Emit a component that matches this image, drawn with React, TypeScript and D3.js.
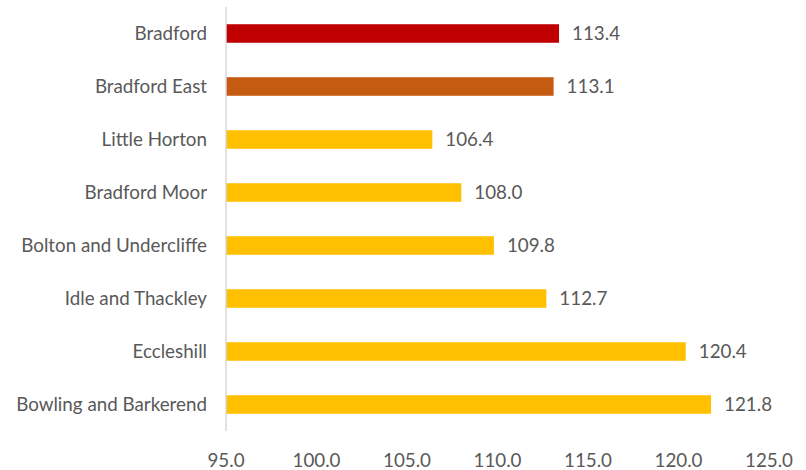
import React from "react";
import * as d3 from "d3";

const categories = [
  "Bradford",
  "Bradford East",
  "Little Horton",
  "Bradford Moor",
  "Bolton and Undercliffe",
  "Idle and Thackley",
  "Eccleshill",
  "Bowling and Barkerend",
];
const values = [113.4, 113.1, 106.4, 108.0, 109.8, 112.7, 120.4, 121.8];
const barColors = ["#C00000", "#C55A11", "#FFC000", "#FFC000", "#FFC000", "#FFC000", "#FFC000", "#FFC000"];
const ticks = [95, 100, 105, 110, 115, 120, 125];

const W = 806;
const H = 470;
const FONT = "Lato, Carlito, Calibri, sans-serif";
const FS = 18.8;
const TEXT = "#595959";

export default function App() {
  const x = d3.scaleLinear().domain([95, 125]).range([226, 769]);
  const y = d3.scaleBand<string>().domain(categories).range([7, 431]).paddingInner(0.65).paddingOuter(0.325);

  return (
    <svg width={W} height={H} style={{ position: "absolute", left: 0, top: 0, background: "#fff" }}>
      <rect x={0} y={0} width={W} height={H} fill="#fff" />
      {categories.map((c, i) => (
        <g key={c}>
          <rect
            x={x(95)}
            y={y(c)!}
            width={x(values[i]) - x(95)}
            height={y.bandwidth()}
            fill={barColors[i]}
          />
          <text
            x={x(values[i]) + 13}
            y={y(c)! + y.bandwidth() / 2}
            dy="0.35em"
            fontFamily={FONT}
            fontSize={FS}
            fill={TEXT}
          >
            {values[i].toFixed(1)}
          </text>
          <text
            x={207}
            y={y(c)! + y.bandwidth() / 2}
            dy="0.35em"
            textAnchor="end"
            fontFamily={FONT}
            fontSize={FS}
            fill={TEXT}
          >
            {c}
          </text>
        </g>
      ))}
      <line x1={x(95)} x2={x(95)} y1={7} y2={431} stroke="#D9D9D9" strokeWidth={1.5} />
      {ticks.map((t) => (
        <text
          key={t}
          x={x(t)}
          y={460}
          dy="0.35em"
          textAnchor="middle"
          fontFamily={FONT}
          fontSize={FS}
          fill={TEXT}
        >
          {t.toFixed(1)}
        </text>
      ))}
    </svg>
  );
}
